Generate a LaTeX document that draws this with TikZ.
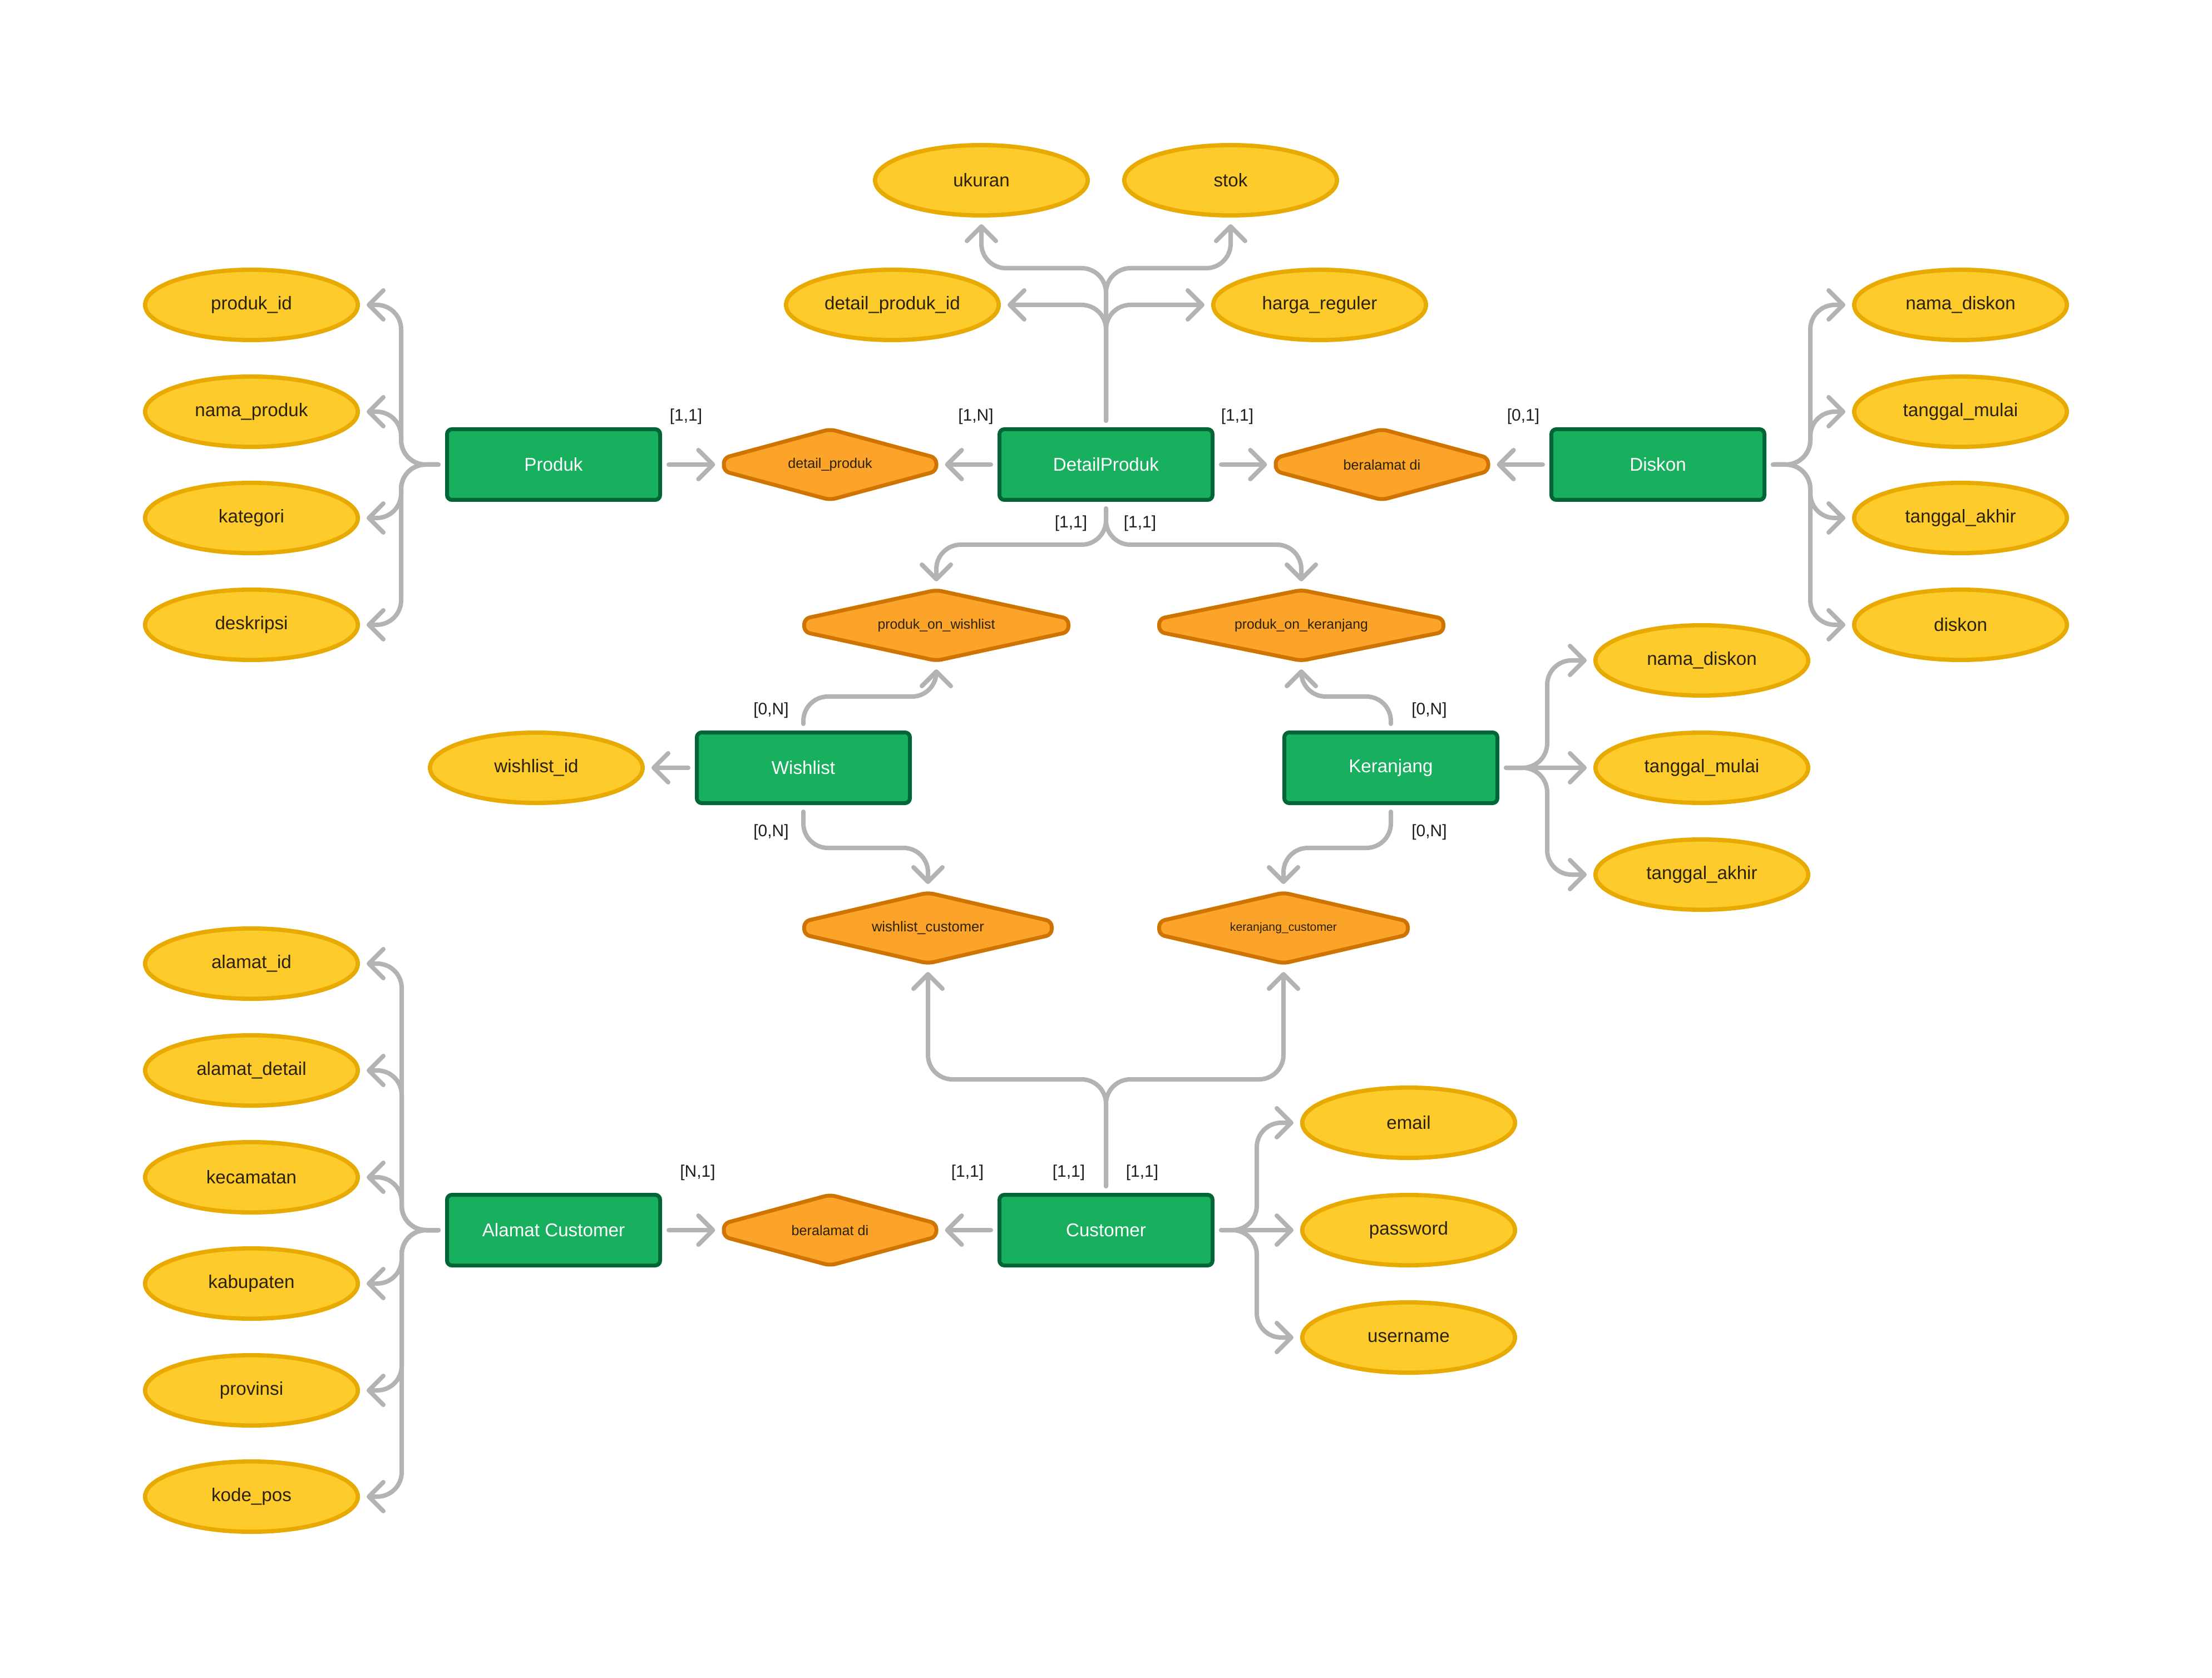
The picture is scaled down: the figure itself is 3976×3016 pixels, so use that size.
\documentclass[tikz,border=0pt]{standalone}
\usepackage{fontspec}
\setmainfont{Liberation Sans}
\usetikzlibrary{arrows.meta,shapes.geometric}

\definecolor{entfill}{HTML}{18AF5E}
\definecolor{entline}{HTML}{006537}
\definecolor{attfill}{HTML}{FDCB2C}
\definecolor{attline}{HTML}{E8AA00}
\definecolor{relfill}{HTML}{FCA42A}
\definecolor{relline}{HTML}{D07400}
\definecolor{conngray}{HTML}{B3B3B3}
\definecolor{inktext}{HTML}{2B2207}
\definecolor{cardtext}{HTML}{1E1E1E}

% relationship: hexagonal diamond drawn first, then its named text node
% #1 extra node options, #2 name, #3 x, #4 y, #5 width (px), #6 text
\newcommand\relation[6][]{%
  \path[hexa] ({#3-#5/2},{#4-12}) -- (#3,{#4-63.5}) -- ({#3+#5/2},{#4-12})
    -- ({#3+#5/2},{#4+12}) -- (#3,{#4+63.5}) -- ({#3-#5/2},{#4+12}) -- cycle;
  \node[rel,minimum width={#5*0.25pt},#1] (#2) at (#3,#4) {#6};}

\begin{document}
\begin{tikzpicture}[x=0.25pt,y=-0.25pt,
  entity/.style={draw=entline, fill=entfill, line width=1.75pt, rounded corners=2.2pt,
    minimum width=95.75pt, minimum height=31.75pt, inner sep=0pt, text=white,
    font=\fontsize{8.3}{10}\selectfont},
  attr/.style={ellipse, draw=attline, fill=attfill, line width=1.9pt,
    minimum width=95.6pt, minimum height=31.6pt, inner sep=0pt, text=inktext,
    font=\fontsize{8.3}{10}\selectfont},
  rel/.style={inner sep=0pt, outer sep=0.9pt, minimum height=31.75pt, text=inktext,
    font=\fontsize{6.3}{8}\selectfont},
  hexa/.style={draw=relline, fill=relfill, line width=1.75pt, rounded corners=2.5pt, line join=round},
  conn/.style={draw=conngray, line width=2pt, line cap=round, line join=round,
    rounded corners=11pt, shorten <=3pt, shorten >=3pt,
    -{Straight Barb[round,length=6.5pt,width=13pt]}},
  card/.style={text=cardtext, font=\fontsize{7.5}{9}\selectfont, inner sep=0pt}
]
\path[use as bounding box, fill=white] (0,0) rectangle (3976,3016);

% entities
\node[entity] (produk) at (995,835) {Produk};
\node[entity] (dp) at (1988,835) {DetailProduk};
\node[entity] (diskon) at (2980,835) {Diskon};
\node[entity] (wish) at (1444,1380) {Wishlist};
\node[entity] (ker) at (2500,1380) {Keranjang};
\node[entity] (alamat) at (995,2211) {Alamat Customer};
\node[entity] (cust) at (1988,2211) {Customer};

% relationships
\relation{rdp}{1492}{835}{382}{detail\_produk}
\relation{rb1}{2484}{835}{382}{beralamat di}
\relation[font=\fontsize{6.2}{8}\selectfont]{pow}{1683}{1124}{475}{produk\_on\_wishlist}
\relation[font=\fontsize{6.2}{8}\selectfont]{pok}{2339}{1124}{511}{produk\_on\_keranjang}
\relation[font=\fontsize{6.4}{8}\selectfont]{wc}{1668}{1668}{445}{wishlist\_customer}
\relation[font=\fontsize{5.3}{7}\selectfont]{kc}{2307}{1668}{447}{keranjang\_customer}
\relation{rb2}{1492}{2211}{382}{beralamat di}

% attributes of Produk
\node[attr] (pid) at (452,548) {produk\_id};
\node[attr] (nprod) at (452,740) {nama\_produk};
\node[attr] (kat) at (452,931) {kategori};
\node[attr] (desk) at (452,1123) {deskripsi};
% attributes of DetailProduk
\node[attr] (ukuran) at (1764,324) {ukuran};
\node[attr] (stok) at (2212,324) {stok};
\node[attr] (dpid) at (1604,548) {detail\_produk\_id};
\node[attr] (harga) at (2372,548) {harga\_reguler};
% attributes of Diskon
\node[attr] (nd1) at (3524,548) {nama\_diskon};
\node[attr] (tm1) at (3524,740) {tanggal\_mulai};
\node[attr] (ta1) at (3524,931) {tanggal\_akhir};
\node[attr] (dis) at (3524,1123) {diskon};
% attribute of Wishlist
\node[attr] (wid) at (964,1380) {wishlist\_id};
% attributes of Keranjang
\node[attr] (nd2) at (3059,1187) {nama\_diskon};
\node[attr] (tm2) at (3059,1380) {tanggal\_mulai};
\node[attr] (ta2) at (3059,1572) {tanggal\_akhir};
% attributes of Alamat Customer
\node[attr] (aid) at (452,1732) {alamat\_id};
\node[attr] (adet) at (452,1924) {alamat\_detail};
\node[attr] (kec) at (452,2116) {kecamatan};
\node[attr] (kab) at (452,2307) {kabupaten};
\node[attr] (prov) at (452,2499) {provinsi};
\node[attr] (kpos) at (452,2690) {kode\_pos};
% attributes of Customer
\node[attr] (email) at (2532,2018) {email};
\node[attr] (pass) at (2532,2211) {password};
\node[attr] (user) at (2532,2404) {username};

% cardinalities
\node[card] (k1) at (1233,749) {[1,1]};
\node[card] (k2) at (1754,749) {[1,N]};
\node[card] (k3) at (2224,749) {[1,1]};
\node[card] (k4) at (2738,749) {[0,1]};
\node[card] (k5) at (1925,941) {[1,1]};
\node[card] (k6) at (2049,941) {[1,1]};
\node[card] (k7) at (1386,1277) {[0,N]};
\node[card] (k8) at (1386,1496) {[0,N]};
\node[card] (k9) at (2569,1277) {[0,N]};
\node[card] (k10) at (2569,1496) {[0,N]};
\node[card] (k11) at (1254,2108) {[N,1]};
\node[card] (k12) at (1739,2108) {[1,1]};
\node[card] (k13) at (1921,2108) {[1,1]};
\node[card] (k14) at (2053,2108) {[1,1]};

% entity -> relationship links
\draw[conn] (produk.east) -- (rdp.west);
\draw[conn] (dp.west) -- (rdp.east);
\draw[conn] (dp.east) -- (rb1.west);
\draw[conn] (diskon.west) -- (rb1.east);
\draw[conn] (dp.south) -- ++(0,77) -| (pow.north);
\draw[conn] (dp.south) -- ++(0,77) -| (pok.north);
\draw[conn] (wish.north) -- ++(0,-61) -| (pow.south);
\draw[conn] (ker.north) -- ++(0,-61) -| (pok.south);
\draw[conn] (wish.south) -- ++(0,77) -| (wc.north);
\draw[conn] (ker.south) -- ++(0,77) -| (kc.north);
\draw[conn] (cust.north) -- ++(0,-204) -| (wc.south);
\draw[conn] (cust.north) -- ++(0,-204) -| (kc.south);
\draw[conn] (alamat.east) -- (rb2.west);
\draw[conn] (cust.west) -- (rb2.east);

% entity -> attribute links
\foreach \a in {pid,nprod,kat,desk} \draw[conn] (produk.west) -- ++(-79,0) |- (\a.east);
\draw[conn] (dp.north) -- ++(0,-286) -| (ukuran.south);
\draw[conn] (dp.north) -- ++(0,-286) -| (stok.south);
\draw[conn] (dp.north) |- (dpid.east);
\draw[conn] (dp.north) |- (harga.west);
\foreach \a in {nd1,tm1,ta1,dis} \draw[conn] (diskon.east) -- ++(79,0) |- (\a.west);
\draw[conn] (wish.west) -- (wid.east);
\draw[conn] (ker.east) -- ++(86,0) |- (nd2.west);
\draw[conn] (ker.east) -- (tm2.west);
\draw[conn] (ker.east) -- ++(86,0) |- (ta2.west);
\foreach \a in {aid,adet,kec,kab,prov,kpos} \draw[conn] (alamat.west) -- ++(-78,0) |- (\a.east);
\draw[conn] (cust.east) -- ++(76,0) |- (email.west);
\draw[conn] (cust.east) -- (pass.west);
\draw[conn] (cust.east) -- ++(76,0) |- (user.west);
\end{tikzpicture}
\end{document}
